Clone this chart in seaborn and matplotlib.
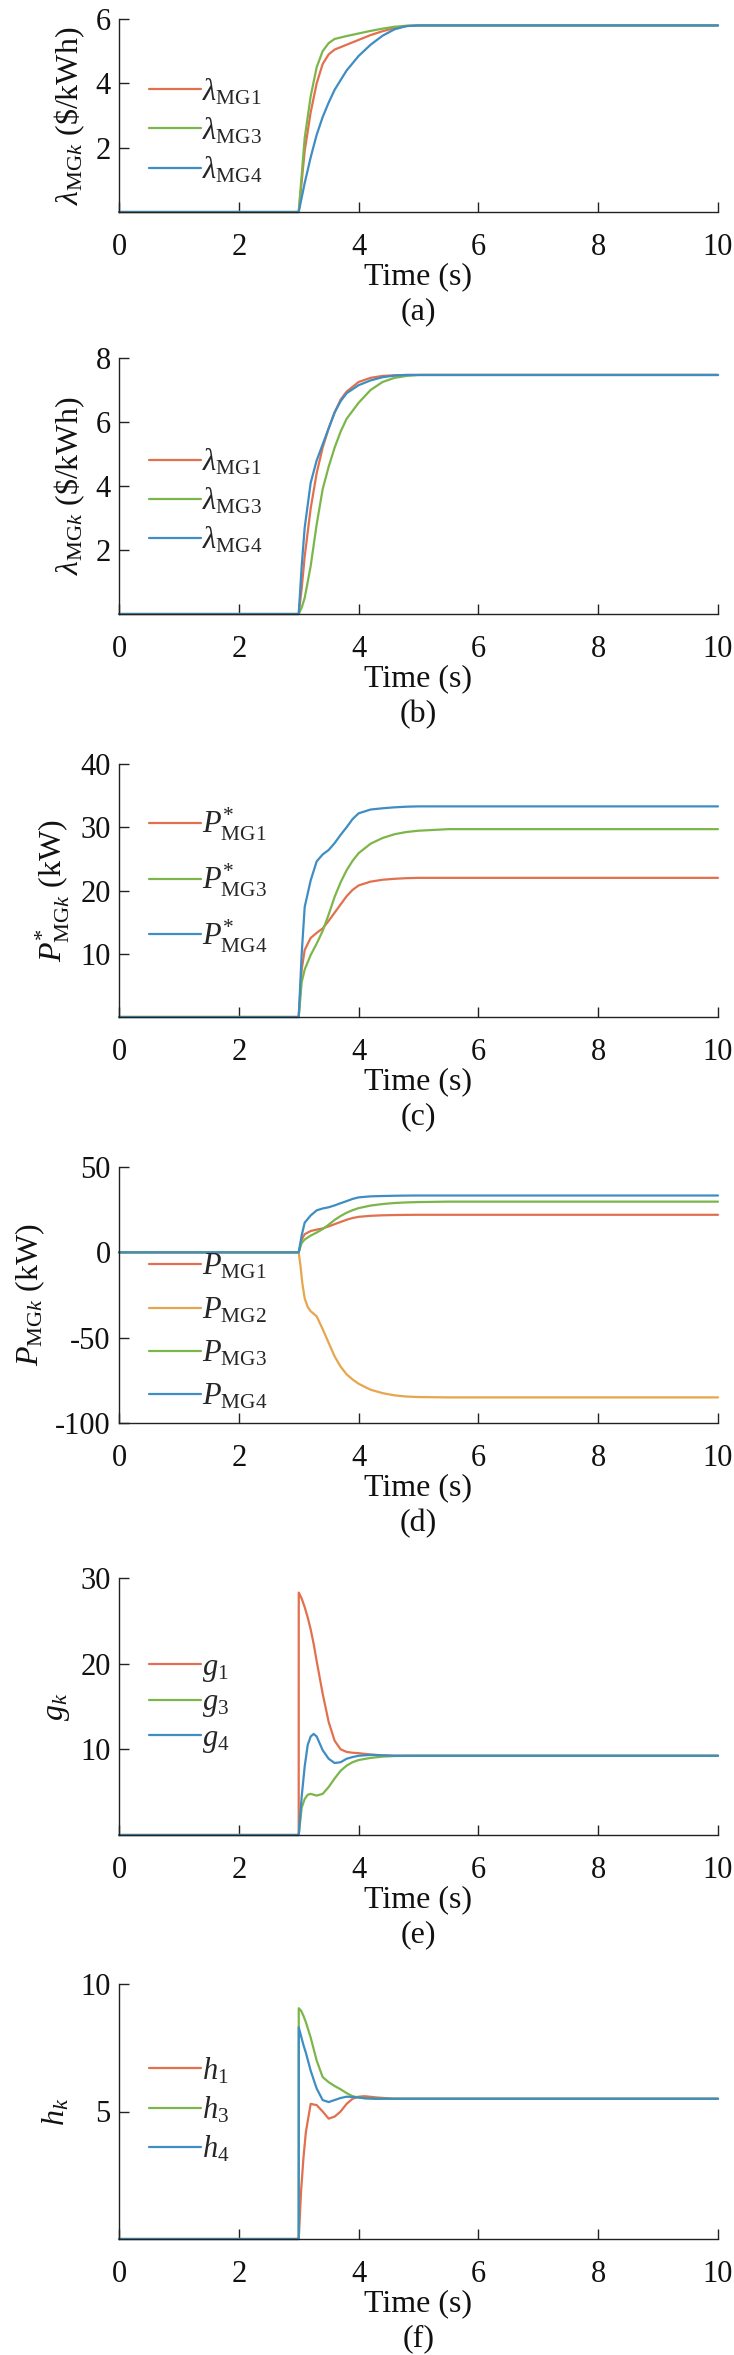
import numpy as np
import pandas as pd
import seaborn as sns
import matplotlib
matplotlib.use("Agg")
import matplotlib.pyplot as plt

# colours
c_red = "#E2704F"
c_yel = "#E6A64C"
c_grn = "#7CB64A"
c_blu = "#3E8DC3"

# (a) lambda, first case
t_a = [0, 3.0, 3.1, 3.2, 3.3, 3.4, 3.5, 3.6, 3.8, 4.0, 4.2, 4.4, 4.6, 4.8, 5.0, 10]
lam_a_mg1 = [0, 0, 1.9, 3.1, 4.0, 4.6, 4.9, 5.05, 5.2, 5.35, 5.5, 5.62, 5.72, 5.78, 5.8, 5.8]
lam_a_mg3 = [0, 0, 2.3, 3.6, 4.5, 5.0, 5.25, 5.38, 5.47, 5.55, 5.63, 5.7, 5.76, 5.79, 5.8, 5.8]
lam_a_mg4 = [0, 0, 0.9, 1.7, 2.4, 2.95, 3.4, 3.8, 4.4, 4.85, 5.2, 5.48, 5.68, 5.78, 5.8, 5.8]

# (b) lambda, second case
t_b = [0, 3.0, 3.05, 3.1, 3.2, 3.3, 3.4, 3.5, 3.6, 3.7, 3.8, 4.0, 4.2, 4.4, 4.6, 4.8, 5.0, 10]
lam_b_mg1 = [0, 0, 0.8, 1.8, 3.3, 4.4, 5.2, 5.8, 6.3, 6.7, 6.95, 7.25, 7.38, 7.44, 7.46, 7.47, 7.47, 7.47]
lam_b_mg3 = [0, 0, 0.2, 0.5, 1.5, 2.8, 3.9, 4.6, 5.2, 5.7, 6.1, 6.6, 7.0, 7.25, 7.38, 7.44, 7.47, 7.47]
lam_b_mg4 = [0, 0, 1.5, 2.7, 4.1, 4.8, 5.3, 5.8, 6.3, 6.65, 6.9, 7.15, 7.3, 7.4, 7.45, 7.47, 7.47, 7.47]

# (c) P* and (d) P
t_c = [0, 3.0, 3.05, 3.1, 3.2, 3.3, 3.4, 3.5, 3.6, 3.7, 3.8, 3.9, 4.0, 4.2, 4.4, 4.6, 4.8, 5.0, 5.5, 10]
ps_mg1 = [0, 0, 7.5, 10.6, 12.5, 13.3, 14.0, 15.2, 16.5, 17.8, 19.1, 20.1, 20.8, 21.4, 21.7, 21.85, 21.95, 22.0, 22.0, 22.0]
ps_mg3 = [0, 0, 5.5, 7.5, 9.8, 11.6, 13.6, 16.2, 19.0, 21.3, 23.2, 24.7, 25.9, 27.4, 28.3, 28.9, 29.25, 29.45, 29.7, 29.7]
ps_mg4 = [0, 0, 10, 17.4, 21.6, 24.6, 25.7, 26.4, 27.5, 28.8, 30.0, 31.3, 32.2, 32.8, 33.0, 33.15, 33.25, 33.3, 33.3, 33.3]

t_d = [0, 3.0, 3.03, 3.06, 3.1, 3.15, 3.2, 3.3, 3.4, 3.5, 3.6, 3.7, 3.8, 3.9, 4.0, 4.2, 4.4, 4.6, 4.8, 5.0, 5.5, 10]
p_mg2 = [0, 0, -8, -18, -27, -32, -34.5, -37.5, -45, -53, -61, -67, -71.5, -74.5, -77, -80.5, -82.5, -83.8, -84.5, -84.8, -85, -85]

# (e) g
t_e = [0, 3.0, 3.001, 3.05, 3.1, 3.15, 3.2, 3.25, 3.3, 3.4, 3.5, 3.6, 3.7, 3.8, 3.9, 4.0, 4.2, 4.4, 4.6, 5.0, 10]
g1 = [0, 0, 28.3, 27.6, 26.6, 25.4, 24.0, 22.3, 20.3, 16.5, 13.2, 11.0, 10.0, 9.7, 9.6, 9.55, 9.4, 9.3, 9.25, 9.25, 9.25]
g3 = [0, 0, 0, 3.2, 4.2, 4.7, 4.8, 4.7, 4.6, 4.8, 5.6, 6.6, 7.5, 8.1, 8.5, 8.75, 9.0, 9.15, 9.22, 9.25, 9.25]
g4 = [0, 0, 0, 4.5, 8.0, 10.5, 11.5, 11.8, 11.5, 9.9, 8.9, 8.4, 8.5, 8.9, 9.1, 9.25, 9.35, 9.3, 9.25, 9.25, 9.25]

# (f) h
t_f = [0, 3.0, 3.001, 3.04, 3.08, 3.12, 3.2, 3.3, 3.4, 3.5, 3.6, 3.7, 3.8, 3.9, 4.0, 4.1, 4.3, 4.6, 5.0, 10]
h1 = [0, 0, 0, 1.9, 3.2, 4.2, 5.3, 5.25, 5.0, 4.72, 4.8, 5.0, 5.3, 5.5, 5.58, 5.6, 5.55, 5.5, 5.5, 5.5]
h3 = [0, 0, 9.05, 8.95, 8.75, 8.5, 7.9, 7.0, 6.35, 6.15, 6.0, 5.87, 5.72, 5.6, 5.55, 5.52, 5.5, 5.5, 5.5, 5.5]
h4 = [0, 0, 8.3, 7.95, 7.6, 7.3, 6.6, 5.9, 5.45, 5.37, 5.45, 5.53, 5.58, 5.57, 5.55, 5.52, 5.5, 5.5, 5.5, 5.5]

x_ticks = [0, 2, 4, 6, 8, 10]

sns.set_style("ticks")
plt.rcParams["font.family"] = ["Liberation Serif", "DejaVu Serif"]
plt.rcParams["mathtext.fontset"] = "custom"
plt.rcParams["mathtext.rm"] = "Liberation Serif"
plt.rcParams["mathtext.it"] = "Liberation Serif:italic"
plt.rcParams["mathtext.bf"] = "Liberation Serif:bold"
plt.rcParams["axes.unicode_minus"] = False

fig = plt.figure(figsize=(7.34, 23.55), dpi=100)
H = 2355.0
# axes extents in pixels (top, bottom)
boxes = [(19, 212), (358, 614), (764, 1017), (1167, 1423), (1578, 1835), (1984, 2239)]
axes = []
for top, bot in boxes:
    axes.append(fig.add_axes([119 / 734, 1 - bot / H, 599 / 734, (bot - top) / H]))

panels = [
    dict(t=t_a, series=[(lam_a_mg1, c_red, r"$\lambda_{\mathrm{MG1}}$"),
                        (lam_a_mg3, c_grn, r"$\lambda_{\mathrm{MG3}}$"),
                        (lam_a_mg4, c_blu, r"$\lambda_{\mathrm{MG4}}$")],
         ylim=(0, 6), yticks=[2, 4, 6], ylabel=r"$\lambda_{\mathrm{MG}k}$ (\$/kWh)",
         leg=0.42, sp=0.28, cap="(a)"),
    dict(t=t_b, series=[(lam_b_mg1, c_red, r"$\lambda_{\mathrm{MG1}}$"),
                        (lam_b_mg3, c_grn, r"$\lambda_{\mathrm{MG3}}$"),
                        (lam_b_mg4, c_blu, r"$\lambda_{\mathrm{MG4}}$")],
         ylim=(0, 8), yticks=[2, 4, 6, 8], ylabel=r"$\lambda_{\mathrm{MG}k}$ (\$/kWh)",
         leg=0.44, sp=0.28, cap="(b)"),
    dict(t=t_c, series=[(ps_mg1, c_red, r"$P^{*}_{\mathrm{MG1}}$"),
                        (ps_mg3, c_grn, r"$P^{*}_{\mathrm{MG3}}$"),
                        (ps_mg4, c_blu, r"$P^{*}_{\mathrm{MG4}}$")],
         ylim=(0, 40), yticks=[10, 20, 30, 40], ylabel=r"$P^{*}_{\mathrm{MG}k}$ (kW)",
         leg=0.54, sp=0.6, cap="(c)"),
    dict(t=None, series=[(ps_mg1, c_red, r"$P_{\mathrm{MG1}}$"),
                         (p_mg2, c_yel, r"$P_{\mathrm{MG2}}$"),
                         (ps_mg3, c_grn, r"$P_{\mathrm{MG3}}$"),
                         (ps_mg4, c_blu, r"$P_{\mathrm{MG4}}$")],
         ylim=(-100, 50), yticks=[-100, -50, 0, 50], ylabel=r"$P_{\mathrm{MG}k}$ (kW)",
         leg=0.355, sp=0.45, cap="(d)"),
    dict(t=t_e, series=[(g1, c_red, r"$g_1$"), (g3, c_grn, r"$g_3$"), (g4, c_blu, r"$g_4$")],
         ylim=(0, 30), yticks=[10, 20, 30], ylabel=r"$g_k$", leg=0.51, sp=0.15, cap="(e)"),
    dict(t=t_f, series=[(h1, c_red, r"$h_1$"), (h3, c_grn, r"$h_3$"), (h4, c_blu, r"$h_4$")],
         ylim=(0, 10), yticks=[5, 10], ylabel=r"$h_k$", leg=0.506, sp=0.28, cap="(f)"),
]

for ax, p in zip(axes, panels):
    for vals, col, lab in p["series"]:
        if p["t"] is None:
            tt = t_d if vals is p_mg2 else t_c
        else:
            tt = p["t"]
        df = pd.DataFrame({"t": tt, "v": vals})
        sns.lineplot(data=df, x="t", y="v", ax=ax, color=col, label=lab,
                     linewidth=1.6, sort=False, estimator=None, clip_on=False)
    ax.set_xlim(0, 10)
    ax.set_ylim(*p["ylim"])
    ax.set_xticks(x_ticks)
    ax.set_yticks(p["yticks"])
    sns.despine(ax=ax)
    for s in ["left", "bottom"]:
        ax.spines[s].set_linewidth(1.0)
        ax.spines[s].set_color("#222222")
    ax.tick_params(direction="in", length=7, width=1.0, colors="#222222",
                   labelsize=22, labelcolor="#111111")
    ax.tick_params(axis="x", pad=15)
    ax.tick_params(axis="y", pad=6)
    ax.set_xlabel("Time (s)\n" + p["cap"], fontsize=23, linespacing=1.3, labelpad=0, color="#111111")
    ax.set_ylabel(p["ylabel"], fontsize=23, color="#111111", labelpad=6)
    ax.legend(loc="center left", bbox_to_anchor=(0.05, p["leg"]), frameon=False,
              fontsize=22, handlelength=1.7, handletextpad=0.05, labelspacing=p["sp"],
              borderpad=0, borderaxespad=0)

fig.savefig("out.png", dpi=100)
